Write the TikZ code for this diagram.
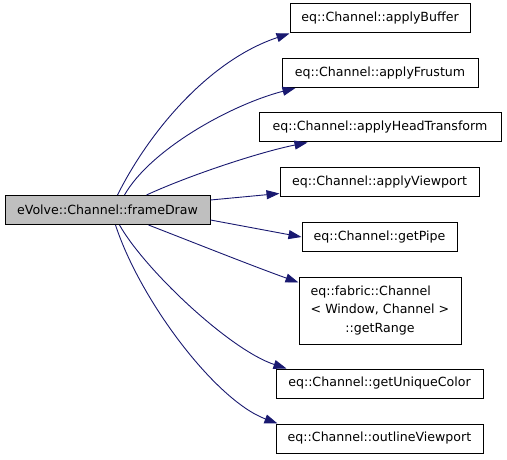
\documentclass[tikz,border=0pt]{standalone}
\usepackage{fontspec}
\setmainfont{DejaVu Sans}
\usetikzlibrary{arrows.meta}
\definecolor{edgecol}{HTML}{191970}
\definecolor{srcfill}{HTML}{BFBFBF}
\tikzset{
  fnbox/.style={draw=black, line width=1pt, inner sep=0pt, minimum height=29pt,
    font=\fontsize{12.6}{18.5}\selectfont, align=center},
  srcbox/.style={fnbox, fill=srcfill},
  callarrow/.style={draw=edgecol, line width=0.9pt, -{Triangle[length=13pt,width=9pt]}},
}
\begin{document}
\begin{tikzpicture}[x=1pt,y=-1pt]
\useasboundingbox (0,0) rectangle (507,460);
\node[srcbox, minimum width=205pt, minimum height=29pt] (src) at (107.5,210) {eVolve::Channel::frameDraw};
\node[fnbox, minimum width=180pt] (b1) at (380,18.5) {eq::Channel::applyBuffer};
\node[fnbox, minimum width=196pt] (b2) at (380,73) {eq::Channel::applyFrustum};
\node[fnbox, minimum width=242pt] (b3) at (380,127.5) {eq::Channel::applyHeadTransform};
\node[fnbox, minimum width=199pt] (b4) at (379.5,182.5) {eq::Channel::applyViewport};
\node[fnbox, minimum width=155pt] (b5) at (379.5,237) {eq::Channel::getPipe};
\node[fnbox, minimum width=162pt, minimum height=67pt] (b6) at (380,310.5)
  {\rlap{eq::fabric::Channel}\phantom{< Window, Channel >}\\< Window, Channel >\\::getRange};
\node[fnbox, minimum width=207pt] (b7) at (379.5,383.5) {eq::Channel::getUniqueColor};
\node[fnbox, minimum width=207pt] (b8) at (379.5,438.5) {eq::Channel::outlineViewport};

\draw[callarrow] ([xshift=113pt]src.north west) .. controls (150,130) and (210,60) .. (b1.south west);
\draw[callarrow] ([xshift=120pt]src.north west) .. controls (150,150) and (230,105) .. ([xshift=14pt]b2.south west);
\draw[callarrow] ([xshift=142pt]src.north west) .. controls (190,175) and (260,152) .. ([xshift=49pt]b3.south west);
\draw[callarrow] ([yshift=-5pt]src.north east) -- ([yshift=4pt]b4.south west);
\draw[callarrow] ([yshift=5pt]src.south east) -- (b5.west);
\draw[callarrow] ([xshift=144pt]src.south west) .. controls (200,245) and (250,265) .. ([yshift=-6pt]b6.north west);
\draw[callarrow] ([xshift=115pt]src.south west) .. controls (145,270) and (230,350) .. ([xshift=11pt]b7.north west);
\draw[callarrow] ([xshift=111pt]src.south west) .. controls (140,300) and (215,400) .. ([xshift=2pt]b8.north west);
\end{tikzpicture}
\end{document}
